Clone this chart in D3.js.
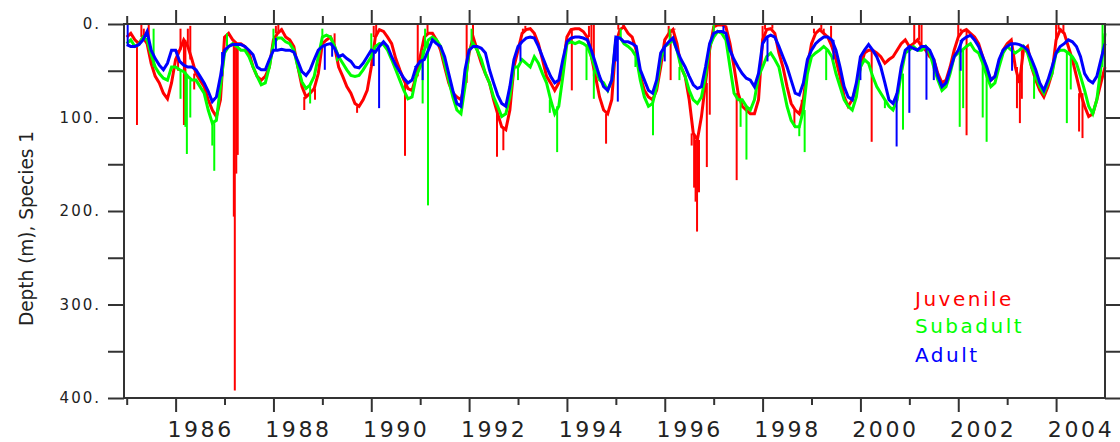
<!DOCTYPE html>
<html>
<head>
<meta charset="utf-8">
<script src="https://cdn.jsdelivr.net/npm/d3@7"></script>
<style>
  body { margin: 0; background: #fff; }
  svg text { font-family: "DejaVu Sans", sans-serif; fill: #222; }
</style>
</head>
<body>
<div id="depth_chart"></div>
<script>
// monthly sample times, 1985.0 .. 2005.0
var months = d3.range(0, 241).map(function(i) { return 1985 + i / 12; });

// depth (m), one value per month
var juvenile = [
  14,10,17,21,14,21,42,56,63,74,80,63,
  38,28,17,24,38,53,60,67,81,92,99,81,
  14,10,17,21,21,24,31,46,56,60,56,46,
  17,10,6,14,17,24,46,67,78,74,69,53,
  21,17,14,24,46,56,67,74,85,88,81,71,
  46,14,6,8,14,21,37,49,60,69,71,56,
  35,14,10,10,17,28,46,63,74,78,81,63,
  31,14,28,42,53,63,81,96,110,113,92,46,
  28,10,6,5,10,21,38,56,63,71,63,46,
  14,6,5,5,8,14,35,56,78,92,96,81,
  21,6,3,10,14,28,56,71,78,81,71,46,
  17,10,6,21,46,56,81,117,124,99,63,28,
  3,1,1,3,21,46,74,88,92,96,96,81,
  17,6,5,10,31,46,67,85,92,96,81,46,
  21,10,6,10,14,24,38,56,78,88,81,67,
  46,31,28,28,31,35,42,38,35,28,21,17,
  24,21,17,24,28,35,38,53,63,60,46,28,
  14,8,6,10,14,21,35,49,60,56,42,28,
  21,17,46,63,28,24,46,60,71,78,67,53,
  17,6,10,24,38,56,74,88,99,96,81,63,
  46];

var subadult = [
  21,17,24,22,14,17,33,46,53,58,60,46,
  46,49,51,56,60,60,67,74,92,106,103,67,
  31,24,21,24,28,28,35,46,56,65,63,46,
  21,15,15,19,21,28,46,62,69,65,56,35,
  14,12,14,24,35,42,49,55,56,55,49,42,
  35,24,21,22,28,38,49,60,71,80,78,56,
  46,28,17,14,17,24,42,60,78,92,96,67,
  28,21,28,38,53,63,78,88,99,96,78,46,
  46,38,42,46,35,42,53,63,81,96,88,56,
  21,19,21,19,21,24,35,49,60,63,71,60,
  17,14,21,24,28,35,60,78,88,85,67,38,
  24,21,17,28,46,56,71,81,85,78,56,24,
  14,8,10,17,46,74,81,81,88,92,81,56,
  46,35,31,38,46,67,88,103,110,110,92,53,
  35,31,28,24,28,35,53,67,81,88,92,78,
  46,38,42,56,67,74,81,88,92,81,53,31,
  28,24,28,28,24,31,46,60,71,67,53,35,
  31,28,24,21,28,31,42,56,67,63,46,31,
  24,28,31,28,24,31,46,56,67,74,63,53,
  31,28,28,31,35,42,56,71,88,96,81,46,
  10];

var adult = [
  22,24,24,22,17,8,28,37,44,49,42,28,
  28,40,44,46,46,49,56,63,72,83,78,56,
  28,24,22,22,22,24,28,33,46,49,49,38,
  28,28,27,28,28,30,40,51,55,49,38,28,
  24,22,21,26,35,33,37,40,46,47,42,35,
  28,30,24,19,24,35,44,51,58,63,60,46,
  40,38,28,17,21,24,35,53,71,85,88,49,
  28,24,24,26,31,49,63,76,85,88,67,38,
  24,19,15,14,15,24,35,46,56,63,60,38,
  19,15,14,14,15,17,28,42,56,67,71,60,
  14,15,19,19,21,24,49,60,71,74,60,31,
  24,19,15,28,38,46,56,65,69,67,46,21,
  10,8,8,10,28,38,46,53,58,60,67,53,
  21,14,12,14,24,35,46,60,74,76,63,38,
  28,21,17,14,14,17,28,46,67,78,81,63,
  35,28,22,28,35,46,63,81,85,74,46,28,
  24,26,28,24,24,28,38,56,67,63,49,35,
  28,17,14,12,17,24,35,46,60,56,38,28,
  24,21,21,22,24,28,38,49,63,71,60,46,
  31,24,21,17,19,24,35,53,60,63,56,38,
  21];

// single-sample excursions: [year, depth]
var juvenileSpikes = [[1985.21,108],[1985.3,0],[1985.35,5],[1985.45,0],[1986.05,50],[1986.1,5],[1986.17,108],
  [1986.2,60],[1986.25,5],[1986.3,2],[1986.38,70],[1987.19,206],[1987.21,392],[1987.24,160],[1987.27,140],
  [1988.05,2],[1988.1,0],[1988.15,5],[1988.63,92],[1988.85,81],[1989.25,10],[1989.71,95],[1990.05,2],
  [1990.1,0],[1990.69,141],[1990.95,0],[1991.15,0],[1991.95,0],[1992.08,0],[1992.57,142],[1992.7,135],
  [1993.1,5],[1993.15,2],[1994.1,71],[1994.45,2],[1994.5,0],[1994.55,0],[1994.8,128],[1995.05,0],
  [1995.15,0],[1996.08,2],[1996.12,60],[1996.2,5],[1996.55,130],[1996.6,175],[1996.63,190],[1996.66,222],
  [1996.7,180],[1996.86,153],[1996.92,97],[1997.05,0],[1997.1,0],[1997.15,0],[1997.47,167],[1998.0,2],
  [1998.05,0],[1998.2,0],[1998.65,110],[1998.8,100],[1999.05,5],[1999.2,0],[1999.25,5],[1999.4,2],
  [2000.23,126],[2001.1,0],[2001.2,0],[2001.25,0],[2002.0,0],[2002.05,5],[2002.1,8],[2002.17,119],
  [2003.2,90],[2003.26,106],[2003.3,80],[2004.0,0],[2004.05,0],[2004.1,5],[2004.15,0],[2004.47,115],
  [2004.54,122]];
var subadultSpikes = [[1985.55,5],[1986.1,80],[1986.2,110],[1986.23,139],[1986.3,100],[1986.75,130],
  [1986.79,157],[1987.05,10],[1988.0,5],[1988.75,85],[1989.0,5],[1989.3,40],[1990.0,10],[1991.05,85],
  [1991.1,5],[1991.16,194],[1992.05,5],[1993.0,60],[1993.65,95],[1993.8,137],[1994.4,60],[1994.55,80],
  [1995.1,5],[1995.4,46],[1995.76,119],[1996.1,5],[1996.3,60],[1997.0,0],[1997.55,110],[1997.67,145],
  [1998.75,120],[1998.86,137],[1999.3,60],[2000.5,90],[2000.87,113],[2001.5,50],[2002.03,110],[2002.1,90],
  [2002.5,100],[2002.58,126],[2003.55,80],[2004.22,106],[2004.3,70],[2004.95,0]];
var adultSpikes = [[1985.02,0],[1986.95,30],[1988.05,15],[1989.05,49],[1989.2,35],[1990.05,45],[1990.16,90],
  [1990.9,45],[1991.05,60],[1993.05,40],[1995.0,40],[1995.04,83],[1996.0,40],[1997.2,2],[1998.1,40],
  [1999.45,38],[2000.0,60],[2000.74,131],[2001.0,95],[2001.35,81],[2001.5,60],[2002.05,50],[2003.1,50]];

var years = d3.range(1985, 2005);
var labelYears = d3.range(1986, 2005, 2);
var depthTicks = d3.range(0, 401, 50);

var width = 1120, height = 442;
var plot = {left: 124, right: 1105, top: 24, bottom: 398};

var svg = d3.select("#depth_chart")
  .append("svg")
  .attr("width", width)
  .attr("height", height);

var x = d3.scaleLinear().domain([1985, 2005]).range([126.7, plot.right]);
var y = d3.scaleLinear().domain([0, 400]).range([plot.top, plot.bottom]);

var line = d3.line()
  .x(function(d, i) { return x(months[i]); })
  .y(function(d) { return y(d); });

var series = [
  {name: "Juvenile", color: "#ff0000", values: juvenile, spikes: juvenileSpikes},
  {name: "Subadult", color: "#00ff00", values: subadult, spikes: subadultSpikes},
  {name: "Adult", color: "#0000ff", values: adult, spikes: adultSpikes}
];

series.forEach(function(s) {
  svg.append("path")
    .datum(s.values)
    .attr("fill", "none")
    .attr("stroke", s.color)
    .attr("stroke-width", 3)
    .attr("d", line);

  svg.selectAll(null)
    .data(s.spikes)
    .enter()
    .append("line")
    .attr("x1", function(d) { return x(d[0]); })
    .attr("x2", function(d) { return x(d[0]); })
    .attr("y1", function(d) { return y(s.values[Math.round((d[0] - 1985) * 12)]); })
    .attr("y2", function(d) { return y(d[1]); })
    .attr("stroke", s.color)
    .attr("stroke-width", 2);
});

// frame
svg.append("rect")
  .attr("x", plot.left).attr("y", plot.top)
  .attr("width", plot.right - plot.left).attr("height", plot.bottom - plot.top)
  .attr("fill", "none").attr("stroke", "#333").attr("stroke-width", 2);

// x ticks top and bottom, long on even years
var xTop = svg.append("g")
  .attr("transform", "translate(0," + plot.top + ")")
  .call(d3.axisTop(x).tickValues(years).tickSize(14).tickFormat(""));
var xBottom = svg.append("g")
  .attr("transform", "translate(0," + plot.bottom + ")")
  .call(d3.axisBottom(x).tickValues(years).tickSize(14).tickFormat(""));
xTop.selectAll(".tick line").attr("y2", function(d) { return d % 2 ? -8 : -14; });
xBottom.selectAll(".tick line").attr("y2", function(d) { return d % 2 ? 7 : 14; });

// year labels centred on the year
var xLabels = svg.append("g")
  .attr("transform", "translate(0," + plot.bottom + ")")
  .call(d3.axisBottom(x).tickValues(labelYears.map(function(d) { return d + 0.5; }))
    .tickSize(0).tickPadding(23).tickFormat(function(d) { return Math.floor(d); }));
xLabels.selectAll("text").style("font-size", "22px").style("letter-spacing", "2.6px");

var yLeft = svg.append("g")
  .attr("transform", "translate(" + plot.left + ",0)")
  .call(d3.axisLeft(y).tickValues(depthTicks).tickSize(16).tickPadding(7)
    .tickFormat(function(d) { return d % 100 ? "" : d + "."; }));
yLeft.selectAll("text").style("font-size", "15px").style("letter-spacing", "2px");

svg.append("g")
  .attr("transform", "translate(" + plot.right + ",0)")
  .call(d3.axisRight(y).tickValues(depthTicks).tickSize(15).tickFormat(""));

svg.selectAll(".domain").remove();
svg.selectAll(".tick line").attr("stroke", "#333").attr("stroke-width", 2);

// y title
svg.append("text")
  .attr("transform", "translate(33,326) rotate(-90)")
  .attr("textLength", 195)
  .attr("lengthAdjust", "spacingAndGlyphs")
  .style("font-size", "20px")
  .text("Depth (m), Species 1");

// legend
var legendY = [306, 333, 362];
series.forEach(function(s, i) {
  svg.append("text")
    .attr("x", 915)
    .attr("y", legendY[i])
    .style("fill", s.color)
    .style("font-size", "20px")
    .style("letter-spacing", "2.5px")
    .text(s.name);
});
</script>
</body>
</html>
